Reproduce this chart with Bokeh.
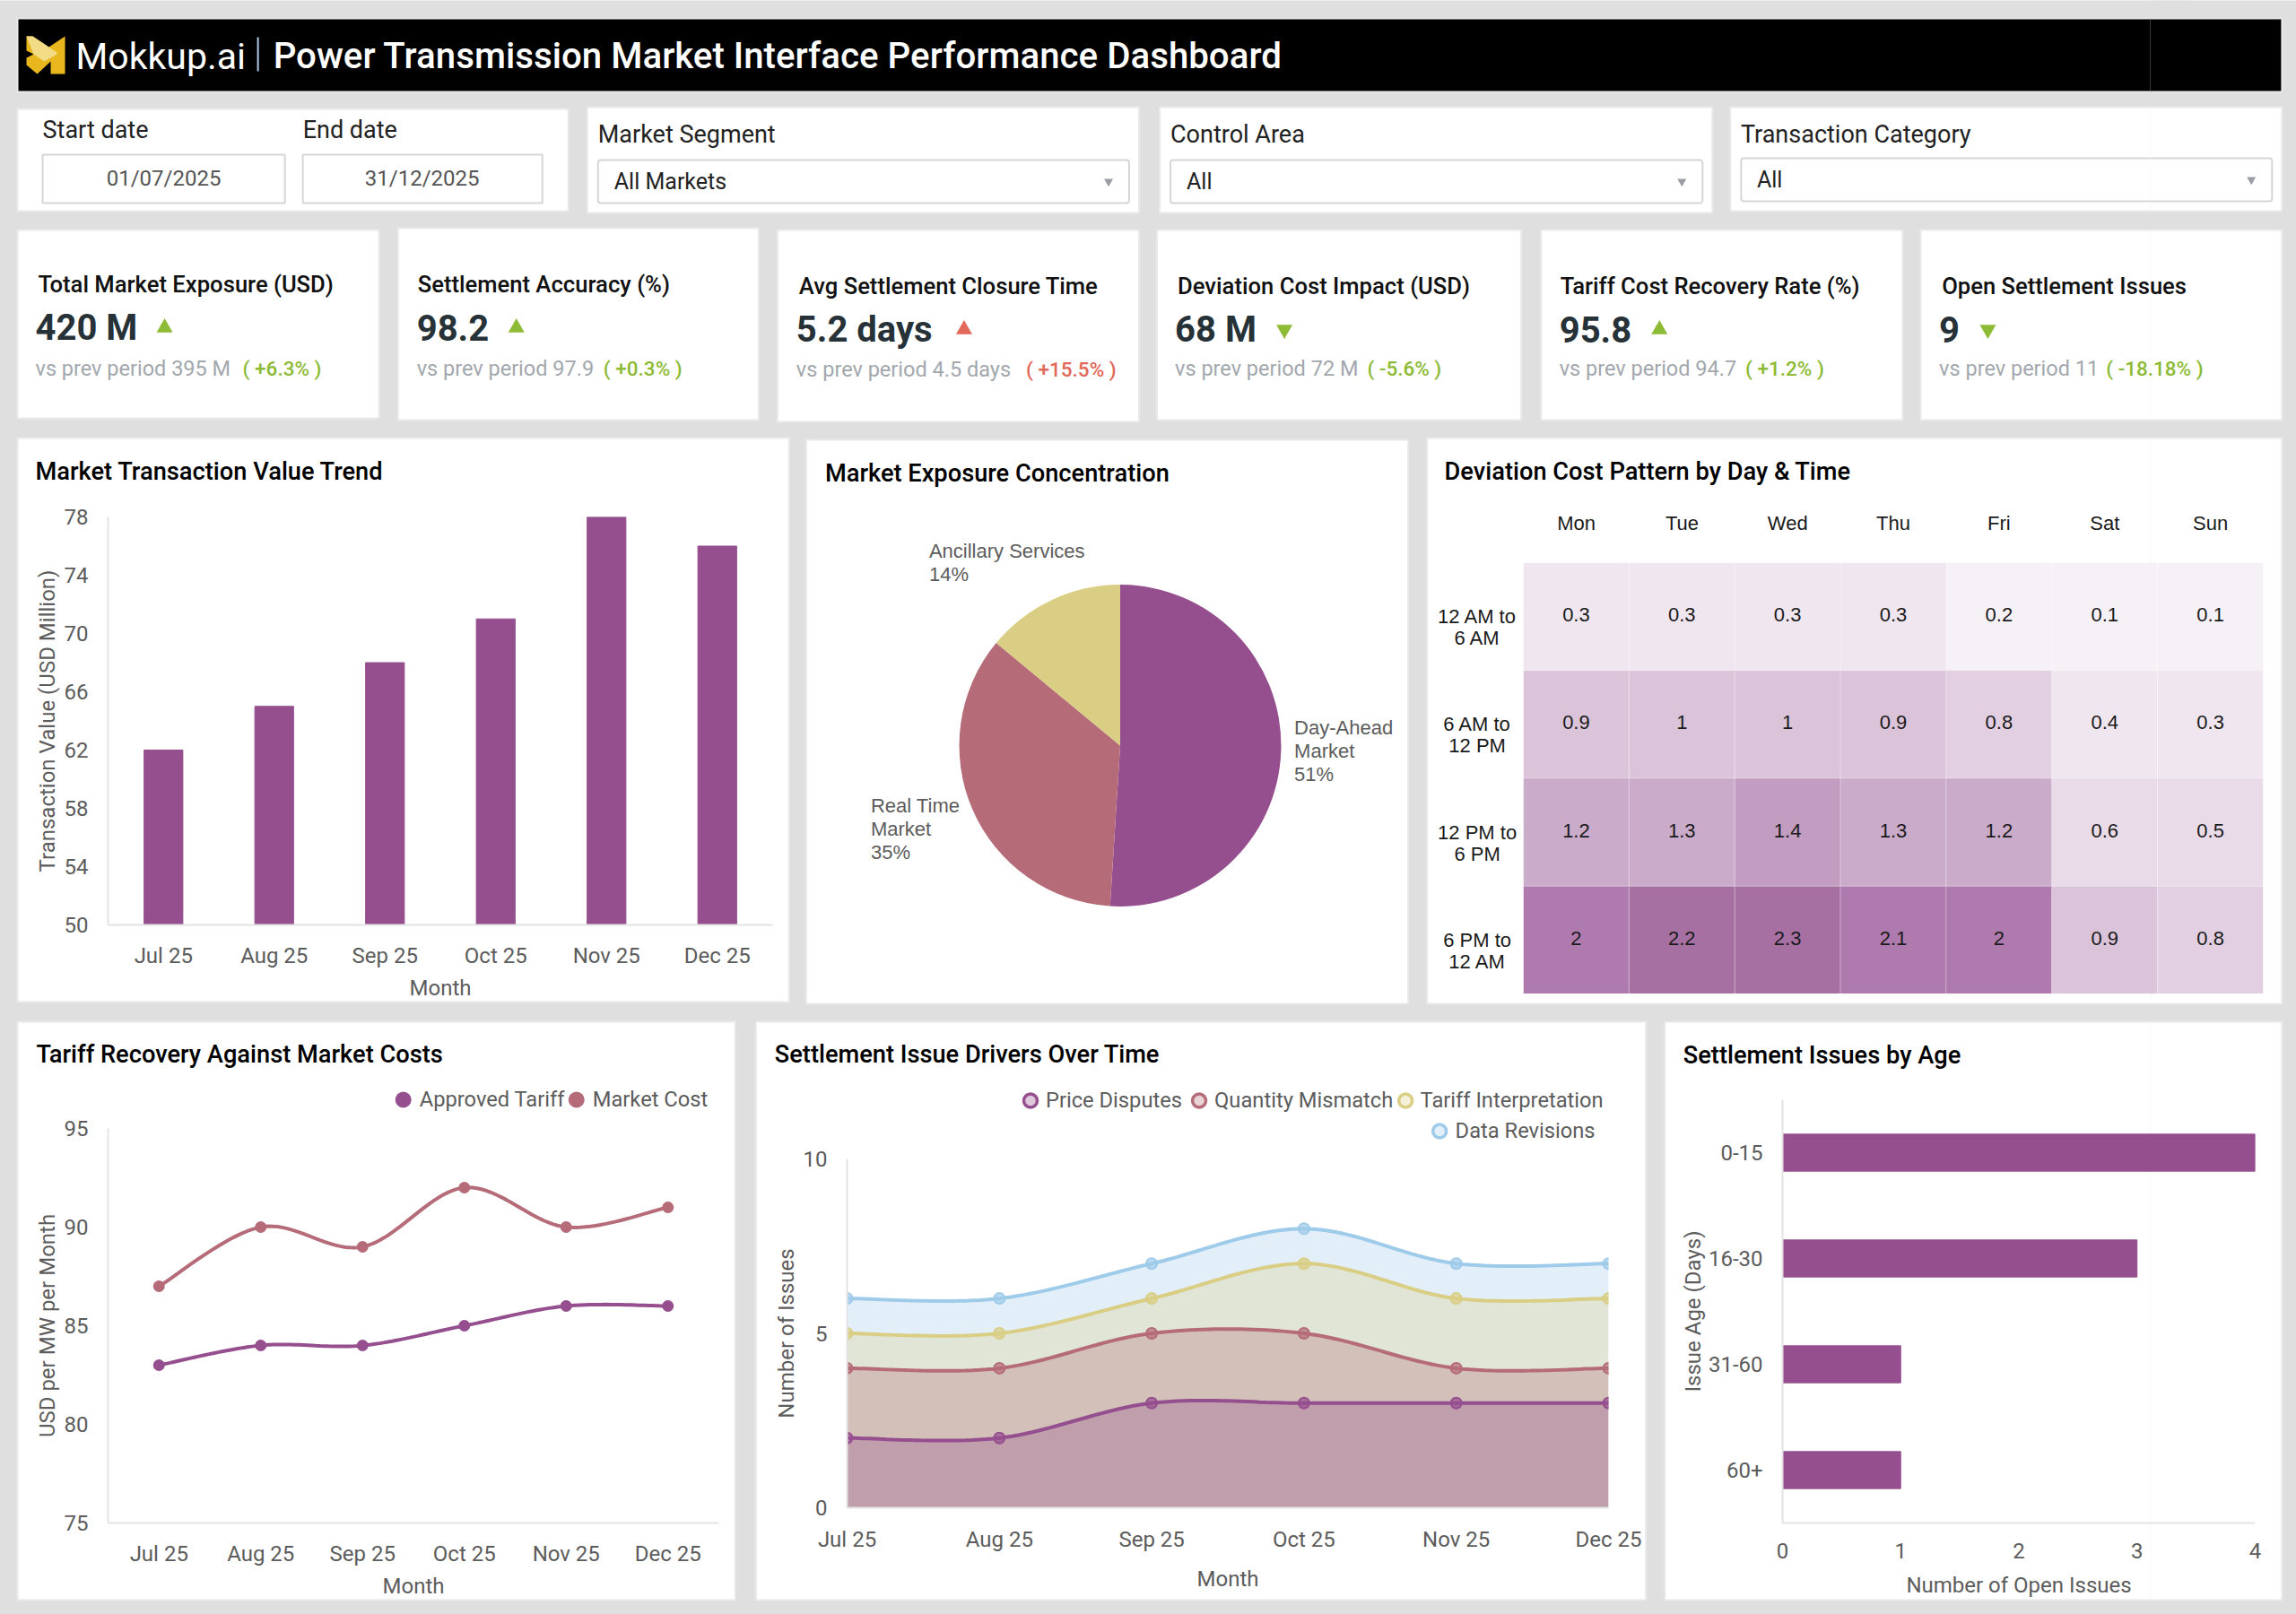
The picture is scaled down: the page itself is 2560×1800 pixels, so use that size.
import numpy as np
from bokeh.core.properties import value
from bokeh.embed import file_html
from bokeh.resources import INLINE
from bokeh.plotting import figure
from bokeh.models import Column, Range1d, FactorRange, FixedTicker

# ---- data ----
months = ["Jul 25", "Aug 25", "Sep 25", "Oct 25", "Nov 25", "Dec 25"]
transaction_value = [62, 65, 68, 71, 78, 76]
value_ticks = [50, 54, 58, 62, 66, 70, 74, 78]

pie_names = ["Day-Ahead Market", "Real Time Market", "Ancillary Services"]
pie_share = [51, 35, 14]

days = ["Mon", "Tue", "Wed", "Thu", "Fri", "Sat", "Sun"]
slots = ["12 AM to\n6 AM", "6 AM to\n12 PM", "12 PM to\n6 PM", "6 PM to\n12 AM"]
dev_12am = [0.3, 0.3, 0.3, 0.3, 0.2, 0.1, 0.1]
dev_6am = [0.9, 1, 1, 0.9, 0.8, 0.4, 0.3]
dev_12pm = [1.2, 1.3, 1.4, 1.3, 1.2, 0.6, 0.5]
dev_6pm = [2, 2.2, 2.3, 2.1, 2, 0.9, 0.8]
shade_limits = [0.25, 0.45, 0.65, 0.85, 1.1, 1.35, 1.9, 2.15, 9]
shade_colors = ["#F6F1F6", "#F0E6EF", "#E9DBE8", "#E2CFE1", "#DBC4DA", "#CBABCA", "#C29CC1", "#AF7AAD", "#A770A3"]

approved_tariff = [83, 84, 84, 85, 86, 86]
market_cost = [87, 90, 89, 92, 90, 91]
tariff_ticks = [75, 80, 85, 90, 95]

price_disputes = [2, 2, 3, 3, 3, 3]
quantity_mismatch = [2, 2, 2, 2, 1, 1]
tariff_interpretation = [1, 1, 1, 2, 2, 2]
data_revisions = [1, 1, 1, 1, 1, 1]
driver_names = ["Price Disputes", "Quantity Mismatch", "Tariff Interpretation", "Data Revisions"]
driver_ticks = [0, 5, 10]

age_groups = ["0-15", "16-30", "31-60", "60+"]
open_issues = [4, 3, 1, 1]
issue_ticks = [0, 1, 2, 3, 4]

kpi_titles = ["Total Market Exposure (USD)", "Settlement Accuracy (%)", "Avg Settlement Closure Time",
              "Deviation Cost Impact (USD)", "Tariff Cost Recovery Rate (%)", "Open Settlement Issues"]
kpi_values = ["420 M", "98.2", "5.2 days", "68 M", "95.8", "9"]
kpi_prev = ["vs prev period 395 M", "vs prev period 97.9", "vs prev period 4.5 days",
            "vs prev period 72 M", "vs prev period 94.7", "vs prev period 11"]
kpi_delta = ["( +6.3% )", "( +0.3% )", "( +15.5% )", "( -5.6% )", "( +1.2% )", "( -18.18% )"]
kpi_up = [True, True, True, False, True, False]
kpi_bad = [False, False, True, False, False, False]

# ---- styles ----
PURPLE, ROSE, SAND, SKY = "#954F8F", "#B56C78", "#D9CE84", "#9FCBEA"
GREY_BG, AXIS, LABEL = "#DFDFDF", "#E3E3E3", "#5C5C5C"
MEDIUM = "Roboto Medium"
SMALL = "24px"
INSET_L, INSET_R = 118, 40  # space the plot keeps on either side of its frame


def place(frame_left, frame_top, frame_w, frame_h, below=0):
    """Figure options that put the frame at an exact spot of the page."""
    pad = 30 if frame_top > 30 else 0
    return dict(width=frame_w + INSET_L + INSET_R, height=frame_h + pad + below,
                min_border_top=pad, min_border_bottom=below, min_border_left=0, min_border_right=INSET_R,
                output_backend="svg", toolbar_location=None,
                styles={"position": "absolute", "left": f"{frame_left - INSET_L}px", "top": f"{frame_top - pad}px"})


# ---- page background, cards and free text (three layers, as a figure stays within the window width) ----
SPLIT, TEXT_SPLIT = 2402, 1500


def layer(x0, x1, fill, border):
    f = figure(x_range=Range1d(x0, x1), y_range=Range1d(1800, 0), x_axis_type=None, y_axis_type=None,
               background_fill_color=fill, border_fill_color=border, outline_line_color=None,
               **place(x0, 0, x1 - x0, 1800))
    f.grid.visible = False
    return f


bg = layer(0, SPLIT, GREY_BG, GREY_BG)
bg_right = layer(SPLIT - 4, 2560, GREY_BG, None)
text_layer = layer(TEXT_SPLIT, 2560, None, None)
shape_layers = (bg, bg_right)


def card(l, t, r, b, fill="#FFFFFF"):
    for f in shape_layers:
        f.quad(left=[l], right=[r], top=[t], bottom=[b], fill_color=fill, line_color="#E9E9E9", line_width=2)


def text(x, y, s, size=SMALL, color=LABEL, font="Roboto", align="left", style="normal"):
    target = bg if x < TEXT_SPLIT else text_layer
    target.text(x=[x], y=[y], text=[s], text_font=value(font), text_font_size=size, text_color=color,
                text_align=align, text_baseline="middle", text_font_style=style)


def box(l, t, r, b, radius=0):
    for f in shape_layers:
        f.quad(left=[l], right=[r], top=[t], bottom=[b], fill_color="#FFFFFF", line_color="#D6D6D6",
               line_width=2, border_radius=radius)


def marker(x, y, kind, size, **kw):
    for f in shape_layers:
        f.scatter([x], [y], marker=kind, size=size, **kw)


# header
card(20, 20, 2544, 102, "#000000")
bg.patch([30, 37, 55, 73, 73, 57, 57, 42, 30, 30, 38, 30], [40, 40, 52, 40, 82, 82, 68, 82, 72, 64, 60, 56],
         color="#E8B71E", line_color=None)
bg.patch([30, 37, 64, 64, 50, 38], [40, 40, 58, 60, 68, 60], color="#F3DC86", line_color=None)
text(85, 62, "Mokkup.ai", "41px", "#FFFFFF")
bg.segment([288], [41], [288], [79], line_color="#AFC8E6", line_width=2)
text(305, 62, "Power Transmission Market Interface Performance Dashboard", "40.2px", "#FFFFFF", MEDIUM)

# filters
card(20, 121, 634, 235)
text(48, 144, "Start date", "27px", "#222222")
text(338, 144, "End date", "27px", "#222222")
box(48, 172, 318, 226)
box(338, 172, 605, 226)
text(183, 198, "01/07/2025", "24px", "#555555", align="center")
text(471, 198, "31/12/2025", "24px", "#555555", align="center")
filters = [(655, 1270, 119, 237, "Market Segment", "All Markets"),
           (1293, 1909, 119, 237, "Control Area", "All"),
           (1929, 2544, 119, 235, "Transaction Category", "All")]
for l, r, t, b, name, val in filters:
    card(l, t, r, b)
    ox = l + 12
    dy = 0 if b == 237 else -2
    text(ox, 149, name, "27px", "#222222")
    box(ox, 178 + dy, r - 11, 226 + dy, 3)
    text(ox + 18, 202 + dy, val, "25px", "#222222")
    marker(r - 34, 202 + dy, "inverted_triangle", 10, color="#9A9DA3", line_color=None)

# KPI cards
kpi_l = [20, 444, 867, 1290, 1718, 2141]
kpi_r = [423, 846, 1270, 1696, 2121, 2544]
kpi_t = [256, 254, 256, 256, 256, 256]
kpi_b = [466, 468, 470, 468, 468, 468]
kpi_tx = [43, 466, 891, 1313, 1740, 2165]
kpi_vx = [40, 465, 888, 1310, 1739, 2162]
kpi_tri = [184, 576, 1075, 1432, 1850, 2216]
kpi_dx = [271, 673, 1144, 1525, 1946, 2348]
kpi_ty = [316, 316, 318, 318, 318, 318]
kpi_vy = [365, 365, 367, 367, 367, 367]
kpi_py = [410, 410, 411, 410, 410, 410]
for i in range(6):
    card(kpi_l[i], kpi_t[i], kpi_r[i], kpi_b[i])
    text(kpi_tx[i], kpi_ty[i], kpi_titles[i], "25.6px", "#111111", MEDIUM)
    text(kpi_vx[i], kpi_vy[i], kpi_values[i], "40px", "#263238", "Roboto", style="bold")
    col = "#E2685A" if kpi_bad[i] else "#8DBB35"
    marker(kpi_tri[i], kpi_vy[i], "triangle" if kpi_up[i] else "inverted_triangle", 18, color=col, line_color=None)
    text(kpi_vx[i], kpi_py[i], kpi_prev[i], "23.5px", "#A2A7AD")
    text(kpi_dx[i], kpi_py[i], kpi_delta[i], "22.5px", "#E2685A" if kpi_bad[i] else "#8DBB35", MEDIUM)

# chart cards
card(20, 488, 880, 1117)
card(899, 490, 1570, 1119)
card(1591, 488, 2544, 1119)
card(20, 1139, 820, 1784)
card(843, 1139, 1835, 1784)
card(1856, 1139, 2544, 1784)
for x, y, s in [(40, 525, "Market Transaction Value Trend"), (920, 527, "Market Exposure Concentration"),
                (1611, 525, "Deviation Cost Pattern by Day & Time"), (41, 1175, "Tariff Recovery Against Market Costs"),
                (864, 1175, "Settlement Issue Drivers Over Time"), (1877, 1176, "Settlement Issues by Age")]:
    text(x, y, s, "27.2px", "#000000", MEDIUM)


def chart(frame, x_range, y_range):
    fl, ft, fr, fb = frame
    p = figure(x_range=x_range, y_range=y_range, background_fill_color=None, border_fill_color=None,
               outline_line_color=None, **place(fl, ft, fr - fl, fb - ft, below=100))
    p.grid.visible = False
    for ax in (p.xaxis[0], p.yaxis[0]):
        ax.axis_line_color = AXIS
        ax.axis_line_width = 2
        ax.major_tick_line_color = None
        ax.minor_tick_line_color = None
        ax.major_label_text_font = "Roboto"
        ax.major_label_text_font_size = SMALL
        ax.major_label_text_color = LABEL
        ax.major_label_standoff = 16
        ax.axis_label_text_font = "Roboto"
        ax.axis_label_text_font_size = SMALL
        ax.axis_label_text_font_style = "normal"
        ax.axis_label_text_color = LABEL
        ax.axis_label_standoff = 5
    p.yaxis.axis_label_standoff = 2
    p.xaxis.major_label_standoff = 14
    return p


def smooth(xs, ys, k=1 / 6, n=24):
    """Rendering of a data series as a smooth curve through its points."""
    xs, ys = np.asarray(xs, float), np.asarray(ys, float)
    out_x, out_y = [], []
    last = len(xs) - 1
    for i in range(last):
        a, b = max(i - 1, 0), min(i + 2, last)
        c1x, c1y = xs[i] + (xs[i + 1] - xs[a]) * k, ys[i] + (ys[i + 1] - ys[a]) * k
        c2x, c2y = xs[i + 1] - (xs[b] - xs[i]) * k, ys[i + 1] - (ys[b] - ys[i]) * k
        for t in np.linspace(0, 1, n, endpoint=i == last - 1):
            u = 1 - t
            out_x.append(u ** 3 * xs[i] + 3 * u * u * t * c1x + 3 * u * t * t * c2x + t ** 3 * xs[i + 1])
            out_y.append(u ** 3 * ys[i] + 3 * u * u * t * c1y + 3 * u * t * t * c2y + t ** 3 * ys[i + 1])
    return np.array(out_x), np.array(out_y)


# bar chart
bar = chart((121, 576, 861, 1031), FactorRange(factors=months), Range1d(value_ticks[0], value_ticks[-1]))
bar.vbar(x=months, top=transaction_value, bottom=value_ticks[0], width=0.35, color=PURPLE)
bar.yaxis.ticker = FixedTicker(ticks=value_ticks)
bar.xaxis.axis_label = "Month"
bar.yaxis.axis_label = "Transaction Value (USD Million)"

# pie
pie = figure(x_range=Range1d(-200 / 179, 200 / 179), y_range=Range1d(-200 / 179, 200 / 179),
             x_axis_type=None, y_axis_type=None, background_fill_color=None, border_fill_color=None,
             outline_line_color=None, **place(1049, 631, 400, 400))
pie.grid.visible = False
cum = np.cumsum([0] + pie_share) / sum(pie_share)
pie.wedge(x=0, y=0, radius=1, start_angle=np.pi / 2 - 2 * np.pi * cum[:-1], end_angle=np.pi / 2 - 2 * np.pi * cum[1:],
          direction="clock", fill_color=[PURPLE, ROSE, SAND], line_color=None)
PIE = "22px"
for x, y0, lines in [(1443, 810.5, ["Day-Ahead", "Market", f"{pie_share[0]}%"]),
                     (971, 897.5, ["Real Time", "Market", f"{pie_share[1]}%"]),
                     (1036, 613.5, [pie_names[2], f"{pie_share[2]}%"])]:
    for j, s in enumerate(lines):
        text(x, y0 + 26 * j, s, PIE, LABEL, "Liberation Sans")

# heatmap
rows = [dev_12am, dev_6am, dev_12pm, dev_6pm]
heat = figure(x_range=FactorRange(factors=days), y_range=FactorRange(factors=slots[::-1]),
              x_axis_type=None, y_axis_type=None, background_fill_color=None, border_fill_color=None,
              outline_line_color=None, **place(1699, 627, 824, 481))
heat.grid.visible = False
hx, hy, hv, hc = [], [], [], []
for slot, row in zip(slots, rows):
    for d, v in zip(days, row):
        hx.append(d); hy.append(slot); hv.append(str(v))
        hc.append(next(c for lim, c in zip(shade_limits, shade_colors) if v <= lim))
heat.rect(x=hx, y=hy, width=1, height=1, fill_color=hc, line_color="#FFFFFF", line_alpha=0.25, line_width=1)
heat.text(x=hx, y=hy, text=hv, text_align="center", text_baseline="middle", y_offset=-2,
          text_font=value("Liberation Sans"), text_font_size="22px", text_color="#1A1A1A")
cw, ch = 824 / len(days), 481 / len(slots)
for i, d in enumerate(days):
    text(1699 + cw * (i + 0.5), 583, d, "22px", "#1A1A1A", "Liberation Sans", "center")
for j, s in enumerate(slots):
    a, b = s.split("\n")
    cy = 627 + ch * (j + 0.5)
    text(1647.5, cy, a, "22px", "#1A1A1A", "Liberation Sans", "center")
    text(1647.5, cy + 24, b, "22px", "#1A1A1A", "Liberation Sans", "center")

# tariff lines
mx = list(range(len(months)))
tar = chart((121, 1258, 801, 1698), Range1d(-0.5, 5.5), Range1d(tariff_ticks[0], tariff_ticks[-1]))
for vals, col in [(approved_tariff, PURPLE), (market_cost, ROSE)]:
    sx, sy = smooth(mx, vals)
    tar.line(sx, sy, line_color=col, line_width=4)
    tar.scatter(mx, vals, size=13, color=col, line_color=None)
tar.xaxis.ticker = FixedTicker(ticks=mx)
tar.xaxis.major_label_overrides = dict(zip(mx, months))
tar.yaxis.ticker = FixedTicker(ticks=tariff_ticks)
tar.xaxis.axis_label = "Month"
tar.yaxis.axis_label = "USD per MW per Month"
for x, tx, s, c in [(450, 1226, "Approved Tariff", PURPLE), (643, 1226, "Market Cost", ROSE)]:
    marker(x, tx, "circle", 18, color=c, line_color=None)
    text(x + 18, tx - 1, s, "23.7px")

# stacked drivers
drv = chart((945, 1292, 1793, 1681), Range1d(0, 5), Range1d(driver_ticks[0], driver_ticks[-1]))
stack = np.cumsum([price_disputes, quantity_mismatch, tariff_interpretation, data_revisions], axis=0)
driver_cols = [PURPLE, ROSE, SAND, SKY]
for lvl, col in zip(stack[::-1], driver_cols[::-1]):
    sx, sy = smooth(mx, lvl)
    drv.varea(x=sx, y1=np.zeros_like(sy), y2=sy, fill_color=col, fill_alpha=0.3)
for lvl, col in zip(stack, driver_cols):
    sx, sy = smooth(mx, lvl)
    drv.line(sx, sy, line_color=col, line_width=4)
    drv.scatter(mx, lvl, size=12, fill_color=col, fill_alpha=0.7, line_color=col, line_width=2)
drv.xaxis.ticker = FixedTicker(ticks=mx)
drv.xaxis.major_label_overrides = dict(zip(mx, months))
drv.yaxis.ticker = FixedTicker(ticks=driver_ticks)
drv.xaxis.axis_label = "Month"
drv.xaxis.major_label_standoff = 15
drv.xaxis.axis_label_standoff = 13
drv.yaxis.axis_label = "Number of Issues"
for x, tx, y, s, c in zip([1149, 1337, 1567, 1605], [1166, 1354, 1584, 1623], [1227, 1227, 1227, 1261],
                          driver_names, driver_cols):
    marker(x, y, "circle", 15, fill_color=c, fill_alpha=0.3, line_color=c, line_width=3.5)
    text(tx, y - 1, s, "23.7px")

# age bars
age = chart((1988, 1226, 2514, 1698), Range1d(issue_ticks[0], issue_ticks[-1]), FactorRange(factors=age_groups[::-1]))
age.hbar(y=age_groups, right=open_issues, left=issue_ticks[0], height=0.35, color=PURPLE)
age.xaxis.ticker = FixedTicker(ticks=issue_ticks)
age.xaxis.axis_label = "Number of Open Issues"
age.xaxis.major_label_standoff = 16
age.xaxis.axis_label_standoff = 13
age.yaxis.axis_label = "Issue Age (Days)"
age.yaxis.axis_label_standoff = 0

inner = Column(children=[bg, bg_right, text_layer, bar, pie, heat, tar, drv, age], width=3200, height=1800,
               styles={"position": "absolute", "left": "0px", "top": "0px"})
root = Column(children=[inner], width=2560, height=1800,
              styles={"position": "absolute", "left": "0px", "top": "0px", "overflow": "hidden"})
open("out.html", "w").write(file_html(root, INLINE))
